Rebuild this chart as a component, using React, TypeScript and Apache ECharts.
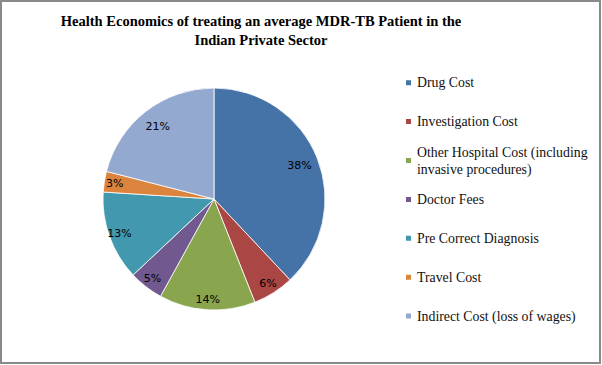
import React, { useEffect, useRef } from "react";
import * as echarts from "echarts";

const titleText = "Health Economics of treating an average MDR-TB Patient in the\nIndian Private Sector";
const categories = [
  "Drug Cost",
  "Investigation Cost",
  "Other Hospital Cost (including\ninvasive procedures)",
  "Doctor Fees",
  "Pre Correct Diagnosis",
  "Travel Cost",
  "Indirect Cost (loss of wages)",
];
const values = [38, 6, 14, 5, 13, 3, 21];
const colors = ["#4572A7", "#AA4643", "#89A54E", "#71588F", "#4198AF", "#DB843D", "#93A9CF"];
// which labels sit nearer to the centre (Excel best-fit)
const innerLabel = [true, false, false, false, false, false, true];

export default function App() {
  const ref = useRef<HTMLDivElement>(null);
  useEffect(() => {
    document.body.style.margin = "0";
    const chart = echarts.init(ref.current!, null, { renderer: "svg" });
    const cx = 214, cy = 199, r = 111;
    const mainData = categories.map((name, i) => ({ name, value: values[i], itemStyle: { color: colors[i] } }));
    const labelSeries = (inner: boolean, r0: number) => ({
      type: "pie",
      name: inner ? "labelsA" : "labelsB",
      center: [cx, cy],
      radius: [r0, r],
      startAngle: 90,
      silent: true,
      legendHoverLink: false,
      itemStyle: { color: "rgba(0,0,0,0)", borderWidth: 0 },
      label: {
        position: "inside",
        formatter: (p: any) => `${p.value}%`,
        fontFamily: "DejaVu Sans",
        fontSize: 11,
        color: "#000",
      },
      labelLine: { show: false },
      emphasis: { disabled: true },
      data: categories.map((name, i) => ({
        name: name + (inner ? " " : "  "),
        value: values[i],
        label: { show: innerLabel[i] === inner },
      })),
      z: 5,
    });
    const markerY0 = 82.7, step = 38.9;
    const legends = categories.map((name, i) => {
      const multi = name.includes("\n");
      const m = markerY0 + step * i;
      return {
        show: true,
        orient: "vertical",
        left: 404,
        top: multi ? m - 25.5 : m - 8.5,
        padding: 0,
        itemWidth: 7,
        itemHeight: 7,
        icon: "rect",
        selectedMode: false,
        data: [{ name, itemStyle: { color: colors[i] } }],
        textStyle: {
          fontFamily: "Liberation Serif",
          fontSize: 13.8,
          lineHeight: 17,
          color: "#111",
          padding: multi ? [17, 0, 0, 0] : 0,
        },
      };
    });
    chart.setOption({
      animation: false,
      title: {
        text: titleText,
        left: 261,
        top: 11.5,
        textAlign: "center",
        padding: 0,
        textStyle: {
          fontFamily: "Liberation Serif",
          fontWeight: "bold",
          fontSize: 14.5,
          lineHeight: 19,
          color: "#000",
        },
      },
      legend: legends,
      graphic: [
        {
          type: "rect",
          shape: { x: 1, y: 1, width: 599, height: 362 },
          style: { fill: "none", stroke: "#8a8a8a", lineWidth: 2 },
          silent: true,
        },
      ],
      series: [
        {
          type: "pie",
          name: "main",
          center: [cx, cy],
          radius: [0, r],
          startAngle: 90,
          clockwise: true,
          label: { show: false },
          labelLine: { show: false },
          itemStyle: { borderColor: "#ffffff", borderWidth: 0.8 },
          emphasis: { disabled: true },
          data: mainData,
        },
        labelSeries(true, 67),
        labelSeries(false, 84),
      ],
    });
    return () => chart.dispose();
  }, []);
  return <div ref={ref} style={{ width: 602, height: 365 }} />;
}
